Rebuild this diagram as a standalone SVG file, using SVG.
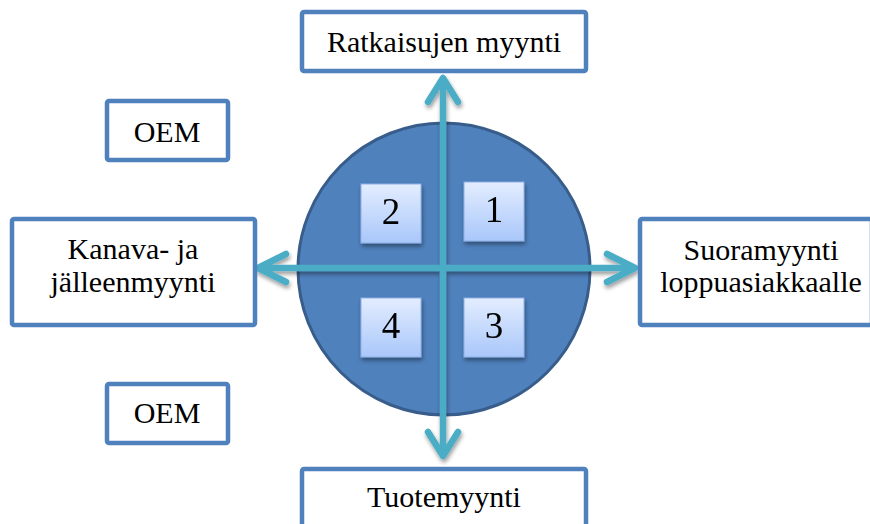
<svg xmlns="http://www.w3.org/2000/svg" width="870" height="524" viewBox="0 0 870 524">
<defs>
<linearGradient id="sq" x1="0" y1="0" x2="0" y2="1">
<stop offset="0" stop-color="#e3edff"/>
<stop offset="1" stop-color="#a9c7fa"/>
</linearGradient>
<filter id="sh" x="-20%" y="-20%" width="150%" height="150%">
<feGaussianBlur in="SourceAlpha" stdDeviation="2"/>
<feOffset dx="1" dy="3" result="b"/>
<feComponentTransfer><feFuncA type="linear" slope="0.4"/></feComponentTransfer>
<feMerge><feMergeNode/><feMergeNode in="SourceGraphic"/></feMerge>
</filter>
</defs>
<style>
.box{fill:#fff;stroke:#4f81bd;stroke-width:4.5}
.t{font-family:"Liberation Serif","Times New Roman",serif;font-size:30px;fill:#000;text-anchor:middle}
.n{font-family:"Liberation Serif","Times New Roman",serif;font-size:37px;fill:#000;text-anchor:middle}
.sq{fill:url(#sq);stroke:#8fb0e6;stroke-width:1}
.ln{stroke:#4bacc6;stroke-width:6.5;fill:none}
.hd{stroke:#4bacc6;stroke-width:6.5;fill:none;stroke-linecap:round;stroke-linejoin:round}
</style>
<rect width="870" height="524" fill="#fff"/>
<g id="circle">
<circle cx="444" cy="269" r="146" fill="#4f81bd" stroke="#385d8a" stroke-width="3"/>
</g>
<g id="q2" filter="url(#sh)"><rect class="sq" x="361" y="184" width="60" height="59"/><text class="n" x="391" y="224">2</text></g>
<g id="q1" filter="url(#sh)"><rect class="sq" x="464" y="182" width="60" height="59"/><text class="n" x="494" y="222">1</text></g>
<g id="q4" filter="url(#sh)"><rect class="sq" x="361" y="298" width="60" height="59"/><text class="n" x="391" y="338">4</text></g>
<g id="q3" filter="url(#sh)"><rect class="sq" x="464" y="298" width="60" height="59"/><text class="n" x="494" y="338">3</text></g>
<g id="connectors" filter="url(#sh)">
<line class="ln" x1="443" y1="79" x2="443" y2="454"/>
<line class="ln" x1="258" y1="268" x2="633" y2="268"/>
<path class="hd" d="M428,102 L443,78 L458,102"/>
<path class="hd" d="M428,432 L443,456 L458,432"/>
<path class="hd" d="M286,254 L258,268 L286,282"/>
<path class="hd" d="M607,254 L635,268 L607,282"/>
</g>
<g id="top"><rect class="box" x="302" y="12" width="284" height="59" rx="2"/><text class="t" x="444" y="52">Ratkaisujen myynti</text></g>
<g id="left"><rect class="box" x="12" y="219" width="243" height="106" rx="2"/><text class="t" x="133" y="259">Kanava- ja</text><text class="t" x="133" y="292">jälleenmyynti</text></g>
<g id="right"><rect class="box" x="640" y="219" width="232" height="106" rx="2"/><text class="t" x="761" y="260">Suoramyynti</text><text class="t" x="761" y="292">loppuasiakkaalle</text></g>
<g id="bottom"><rect class="box" x="302" y="469" width="284" height="70" rx="2"/><text class="t" x="444" y="507">Tuotemyynti</text></g>
<g id="oem1"><rect class="box" x="107" y="101" width="121" height="59" rx="2"/><text class="t" x="167" y="142">OEM</text></g>
<g id="oem2"><rect class="box" x="107" y="384" width="121" height="59" rx="2"/><text class="t" x="167" y="423">OEM</text></g>
</svg>
